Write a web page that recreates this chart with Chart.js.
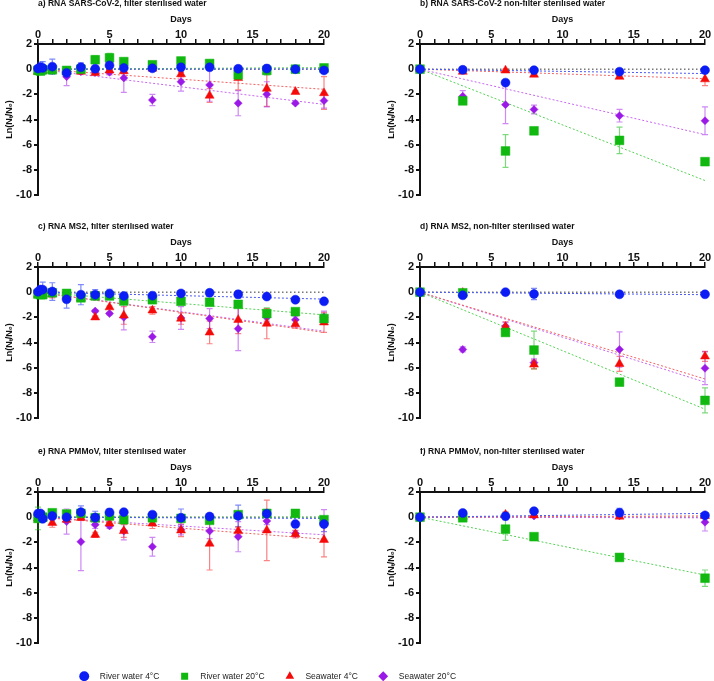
<!DOCTYPE html>
<html>
<head>
<meta charset="utf-8">
<script src="https://cdn.jsdelivr.net/npm/chart.js@4.4.0/dist/chart.umd.min.js"></script>
<style>
  body { margin: 0; background: #fff; }
  #wrap { position: relative; width: 714px; height: 681px; overflow: hidden; }
  canvas { position: absolute; }
</style>
</head>
<body>
<div id="wrap">
  <canvas id="pa" style="left:0;top:0" width="338" height="205"></canvas>
  <canvas id="pb" style="left:382px;top:0" width="332" height="205"></canvas>
  <canvas id="pc" style="left:0;top:223px" width="338" height="205"></canvas>
  <canvas id="pd" style="left:382px;top:223px" width="332" height="205"></canvas>
  <canvas id="pe" style="left:0;top:448px" width="338" height="205"></canvas>
  <canvas id="pf" style="left:382px;top:448px" width="332" height="205"></canvas>
  <canvas id="legend" style="left:0;top:651px" width="536" height="160"></canvas>
</div>
<script>
// sampling days
const daysF = [0, 0.17, 0.33, 1, 2, 3, 4, 5, 6, 8, 10, 12, 14, 16, 18, 20];
const daysNF = [0, 3, 6, 8, 14, 20];

// a) SARS-CoV-2, filter sterilised
const aRiver4 = [0.05, 0.15, 0.1, 0.2, -0.3, 0.15, 0.03, 0.3, 0.1, 0.07, 0.15, 0.15, 0.03, 0.05, 0.0, -0.1];
const aRiver4Err = [0.2, 0.4, 0.5, 0.6, 0.3, 0.35, 0.1, 0.35, 0.1, 0.1, 0.1, 0.1, 0.1, 0.3, 0.1, 0.15];
const aRiver20 = [-0.1, -0.15, -0.05, -0.05, -0.1, 0.0, 0.75, 0.9, 0.6, 0.35, 0.65, 0.45, -0.45, -0.1, 0.0, 0.1];
const aRiver20Err = [0.3, 0.2, 0.1, 0.2, 0.15, 0.1, 0.3, 0.35, 0.25, 0.1, 0.1, 0.15, 0.2, 0.35, 0.1, 0.2];
const aSea4 = [-0.2, -0.1, -0.1, -0.1, -0.2, -0.2, -0.3, -0.1, -0.15, 0.05, -0.4, -2.1, -0.7, -1.55, -1.8, -1.9];
const aSea4Err = [0.2, 0.1, 0.1, 0.1, 0.1, 0.1, 0.15, 0.1, 0.2, 0.1, 0.2, 0.55, 0.95, 1.4, 0.1, 1.3];
const aSea20 = [0, 0, -0.1, -0.1, -0.6, -0.2, -0.25, -0.25, -0.7, -2.45, -1.0, -1.25, -2.7, -2.0, -2.7, -2.5];
const aSea20Err = [0.1, 0.1, 0.1, 0.1, 0.7, 0.1, 0.15, 0.2, 1.15, 0.45, 0.75, 1.3, 1.0, 1.0, 0.1, 0.6];
const aTrend = [0.02, 0.12, -1.6, -2.8];

// b) SARS-CoV-2, non-filter sterilised
const bRiver4 = [0, -0.05, -1.07, -0.08, -0.2, -0.08];
const bRiver4Err = [0, 0.1, 0.1, 0.1, 0.1, 0.1];
const bRiver20 = [0, -2.52, -6.5, -4.9, -5.66, -7.35];
const bRiver20Err = [0, 0.1, 1.3, 0.1, 1.05, 0.1];
const bSea4 = [0, -0.2, -0.1, -0.43, -0.6, -0.8];
const bSea4Err = [0, 0.1, 0.1, 0.1, 0.1, 0.5];
const bSea20 = [0, -2.15, -2.82, -3.2, -3.7, -4.1];
const bSea20Err = [0, 0.45, 1.5, 0.35, 0.5, 1.1];
const bTrend = [-0.35, -8.85, -0.75, -5.2];

// c) MS2, filter sterilised
const cRiver4 = [0.03, 0.2, 0.2, 0.05, -0.57, -0.2, -0.2, -0.12, -0.3, -0.28, -0.1, -0.05, -0.17, -0.35, -0.6, -0.73];
const cRiver4Err = [0.1, 0.3, 0.6, 0.7, 0.7, 0.8, 0.4, 0.35, 0.1, 0.1, 0.1, 0.1, 0.3, 0.1, 0.1, 0.1];
const cRiver20 = [-0.15, -0.2, -0.2, -0.05, -0.1, -0.45, -0.3, -0.3, -0.7, -0.6, -0.73, -0.8, -0.97, -1.7, -1.55, -2.1];
const cRiver20Err = [0.2, 0.2, 0.1, 0.3, 0.2, 0.2, 0.1, 0.1, 0.1, 0.2, 0.1, 0.1, 0.1, 0.45, 0.2, 0.4];
const cSea4 = [-0.2, -0.25, -0.2, -0.15, -0.3, -0.5, -2.0, -1.2, -1.85, -1.45, -2.1, -3.2, -2.2, -2.5, -2.55, -2.4];
const cSea4Err = [0.2, 0.1, 0.1, 0.3, 0.2, 0.2, 0.1, 0.1, 0.7, 0.3, 0.45, 0.9, 1.1, 1.2, 0.3, 0.8];
const cSea20 = [-0.1, -0.1, -0.1, -0.1, -0.3, -0.3, -1.5, -1.7, -2.0, -3.55, -2.05, -2.1, -2.9, -2.0, -2.2, -2.0];
const cSea20Err = [0.1, 0.1, 0.1, 0.1, 0.2, 0.2, 0.1, 0.1, 1.0, 0.45, 0.9, 0.8, 1.75, 0.3, 0.3, 0.5];
const cTrend = [-0.55, -1.8, -3.2, -3.1];

// d) MS2, non-filter sterilised
const dRiver4 = [0, -0.25, 0, -0.15, -0.17, -0.17];
const dRiver4Err = [0, 0.1, 0.1, 0.45, 0.1, 0.1];
const dRiver20 = [0, -0.05, -3.2, -4.6, -7.15, -8.6];
const dRiver20Err = [0, 0.1, 0.1, 1.5, 0.1, 1.0];
const dSea4 = [0, -0.05, -2.75, -5.75, -5.7, -5.1];
const dSea4Err = [0, 0.1, 0.4, 0.35, 0.6, 0.4];
const dSea20 = [0, -4.55, -2.7, -5.6, -4.55, -6.05];
const dSea20Err = [0, 0.2, 0.3, 0.3, 1.4, 1.3];
const dTrend = [-0.2, -9.3, -6.9, -7.15];

// e) PMMoV, filter sterilised
const eRiver4 = [0.27, 0.3, -0.13, 0.1, 0.0, 0.4, -0.03, 0.38, 0.4, 0.2, -0.05, 0.05, 0.1, 0.28, -0.55, -0.55];
const eRiver4Err = [0.3, 0.2, 0.2, 0.1, 0.1, 0.5, 0.5, 0.3, 0.1, 0.25, 0.7, 0.1, 0.85, 0.1, 0.2, 0.6];
const eRiver20 = [-0.1, 0.1, 0.0, 0.35, 0.25, 0.3, -0.05, 0.1, -0.2, -0.05, -0.1, -0.25, 0.2, 0.3, 0.3, -0.2];
const eRiver20Err = [0.9, 0.3, 0.2, 0.1, 0.1, 0.1, 0.1, 0.1, 0.1, 0.1, 0.1, 0.1, 0.2, 0.1, 0.2, 0.2];
const eSea4 = [-0.1, -0.1, -0.1, -0.45, -0.2, -0.05, -1.4, -0.5, -1.1, -0.5, -1.05, -2.1, -1.1, -1.05, -1.35, -1.8];
const eSea4Err = [0.3, 0.1, 0.1, 0.35, 0.1, 0.2, 0.2, 0.2, 0.5, 0.4, 0.5, 2.1, 0.3, 2.4, 0.3, 1.35];
const eSea20 = [0, 0, 0, -0.1, -0.35, -1.95, -0.6, -0.7, -1.1, -2.35, -1.0, -1.1, -1.55, -0.3, -1.3, -0.6];
const eSea20Err = [0.1, 0.1, 0.1, 0.1, 1.0, 2.3, 0.3, 0.2, 0.7, 0.75, 0.4, 0.6, 1.2, 0.3, 0.2, 1.2];
const eTrend = [-0.1, 0, -1.75, -1.4];

// f) PMMoV, non-filter sterilised
const fRiver4 = [0, 0.33, 0.08, 0.48, 0.35, 0.14];
const fRiver4Err = [0, 0.1, 0.3, 0.1, 0.35, 0.1];
const fRiver20 = [0, -0.05, -0.95, -1.55, -3.2, -4.85];
const fRiver20Err = [0, 0.1, 0.9, 0.1, 0.25, 0.65];
const fSea4 = [0, 0.05, 0.2, 0.15, 0.05, 0.1];
const fSea4Err = [0, 0.1, 0.2, 0.1, 0.1, 0.1];
const fSea20 = [0, 0.05, 0.05, 0.1, 0.1, -0.4];
const fSea20Err = [0, 0.1, 0.1, 0.1, 0.1, 0.7];
const fTrend = [0.3, -4.6, 0.1, -0.05];

const seriesNames = ['River water 4°C', 'River water 20°C', 'Seawater 4°C', 'Seawater 20°C'];

// marker styles for the four series
const styles = [
  { color: '#0b1cf5', err: 'rgba(40,60,245,0.6)', trend: '#4a58f0', shape: 'circle', r: 4.5 },
  { color: '#10b810', err: 'rgba(20,185,20,0.55)', trend: '#55d055', shape: 'rect', r: 6.2 },
  { color: '#f50a0a', err: 'rgba(245,30,30,0.55)', trend: '#f06060', shape: 'triangle', r: 5.2 },
  { color: '#9b19e6', err: 'rgba(165,40,235,0.55)', trend: '#c866f0', shape: 'rectRot', r: 4 }
];

const FONT = '"Liberation Sans", Arial, sans-serif';

// draws vertical error bars under the markers
const errorBars = {
  id: 'errorBars',
  beforeDatasetsDraw(chart) {
    const { ctx, scales: { y } } = chart;
    chart.data.datasets.forEach((ds, i) => {
      if (!ds.errors) return;
      const meta = chart.getDatasetMeta(i);
      ctx.save();
      ctx.strokeStyle = ds.errorColor;
      ctx.lineWidth = 1.2;
      meta.data.forEach((pt, j) => {
        const v = ds.data[j].y, e = ds.errors[j];
        if (v == null || !e) return;
        const top = y.getPixelForValue(v + e), bot = y.getPixelForValue(v - e);
        ctx.beginPath();
        ctx.moveTo(pt.x, top); ctx.lineTo(pt.x, bot);
        ctx.moveTo(pt.x - 3, top); ctx.lineTo(pt.x + 3, top);
        ctx.moveTo(pt.x - 3, bot); ctx.lineTo(pt.x + 3, bot);
        ctx.stroke();
      });
      ctx.restore();
    });
  }
};

// panel title, left-aligned with the y axis
const panelTitle = {
  id: 'panelTitle',
  afterDraw(chart, args, opts) {
    const { ctx, chartArea } = chart;
    ctx.save();
    ctx.font = 'bold 8.5px ' + FONT;
    ctx.fillStyle = '#111';
    ctx.textBaseline = 'middle';
    ctx.fillText(opts.text, chartArea.left, 4);
    ctx.restore();
  }
};

function makePanel(id, title, days, values, errors, trend) {
  const datasets = [];
  values.forEach((vals, s) => {
    const st = styles[s];
    datasets.push({
      label: seriesNames[s],
      data: days.map((d, j) => ({ x: d, y: vals[j] })),
      errors: errors[s],
      errorColor: st.err,
      pointStyle: st.shape,
      pointRadius: st.r,
      pointBackgroundColor: st.color,
      pointBorderColor: st.color,
      pointBorderWidth: 0.5,
      showLine: false,
      clip: false,
      order: 1
    });
  });
  trend.forEach((end, s) => {
    datasets.push({
      label: 'fit ' + s,
      type: 'line',
      data: [{ x: 0, y: 0 }, { x: 20, y: end }],
      borderColor: styles[s].trend,
      borderWidth: 1,
      borderDash: [2, 2],
      pointRadius: 0,
      clip: false,
      order: 5
    });
  });
  datasets.push({
    label: 'zero',
    type: 'line',
    data: [{ x: 0, y: 0 }, { x: 20, y: 0 }],
    borderColor: '#333',
    borderWidth: 1,
    borderDash: [1.5, 2.5],
    pointRadius: 0,
    order: 6
  });

  new Chart(document.getElementById(id), {
    type: 'scatter',
    data: { datasets },
    plugins: [errorBars, panelTitle],
    options: {
      responsive: false,
      animation: false,
      layout: { padding: { top: 14, right: id.match(/p[ace]/) ? 14 : 9, bottom: 10, left: 0 } },
      plugins: {
        legend: { display: false },
        tooltip: { enabled: false },
        panelTitle: { text: title }
      },
      scales: {
        x: {
          type: 'linear',
          position: 'top',
          min: 0,
          max: 20,
          afterFit: s => { s.height = 30; },
          border: { color: '#111', width: 2 },
          grid: { drawOnChartArea: false, color: '#111', lineWidth: 1.5, tickLength: 5 },
          ticks: {
            stepSize: 1, autoSkip: false, maxRotation: 0, padding: -3,
            color: '#111', font: { family: FONT, size: 11, weight: 'bold' },
            callback: v => (v % 5 === 0 ? v : '')
          },
          title: {
            display: true, text: 'Days', color: '#111',
            font: { family: FONT, size: 9, weight: 'bold' }, padding: { top: 0, bottom: 0 }
          }
        },
        y: {
          min: -10,
          max: 2,
          afterFit: s => { s.width = 38; },
          border: { color: '#111', width: 2 },
          grid: { drawOnChartArea: false, color: '#111', lineWidth: 2, tickLength: 4 },
          ticks: {
            stepSize: 2, padding: 2, color: '#111',
            font: { family: FONT, size: 11, weight: 'bold' }
          },
          title: {
            display: true, text: 'Ln(Nₜ/N₀)', color: '#111',
            font: { family: FONT, size: 9, weight: 'bold' }, padding: { top: 4, bottom: 0 }
          }
        }
      }
    }
  });
}

makePanel('pa', 'a) RNA SARS-CoV-2, filter sterilised water', daysF,
  [aRiver4, aRiver20, aSea4, aSea20], [aRiver4Err, aRiver20Err, aSea4Err, aSea20Err], aTrend);
makePanel('pb', 'b) RNA SARS-CoV-2 non-filter sterilised water', daysNF,
  [bRiver4, bRiver20, bSea4, bSea20], [bRiver4Err, bRiver20Err, bSea4Err, bSea20Err], bTrend);
makePanel('pc', 'c) RNA MS2, filter sterilised water', daysF,
  [cRiver4, cRiver20, cSea4, cSea20], [cRiver4Err, cRiver20Err, cSea4Err, cSea20Err], cTrend);
makePanel('pd', 'd) RNA MS2, non-filter sterilised water', daysNF,
  [dRiver4, dRiver20, dSea4, dSea20], [dRiver4Err, dRiver20Err, dSea4Err, dSea20Err], dTrend);
makePanel('pe', 'e) RNA PMMoV, filter sterilised water', daysF,
  [eRiver4, eRiver20, eSea4, eSea20], [eRiver4Err, eRiver20Err, eSea4Err, eSea20Err], eTrend);
makePanel('pf', 'f) RNA PMMoV, non-filter sterilised water', daysNF,
  [fRiver4, fRiver20, fSea4, fSea20], [fRiver4Err, fRiver20Err, fSea4Err, fSea20Err], fTrend);

// shared legend along the bottom
new Chart(document.getElementById('legend'), {
  type: 'scatter',
  data: {
    datasets: seriesNames.map((name, s) => ({
      label: name,
      data: [],
      pointStyle: styles[s].shape,
      backgroundColor: styles[s].color,
      borderColor: styles[s].color,
      borderWidth: 0
    }))
  },
  options: {
    responsive: false,
    animation: false,
    scales: { x: { display: false }, y: { display: false } },
    plugins: {
      tooltip: { enabled: false },
      legend: {
        labels: {
          usePointStyle: true,
          boxHeight: 7,
          padding: 21,
          color: '#222',
          font: { family: FONT, size: 8.5 },
          // a little more room between symbol and text
          generateLabels: chart => Chart.defaults.plugins.legend.labels.generateLabels(chart)
            .map(item => ({ ...item, text: '   ' + item.text }))
        }
      }
    }
  }
});
</script>
</body>
</html>
